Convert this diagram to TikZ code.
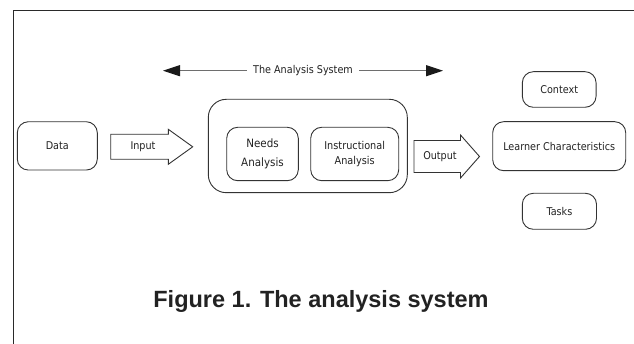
\documentclass[tikz,border=0pt]{standalone}
\usepackage{fontspec}
\newfontfamily\lblfont{DejaVu Sans}[FakeStretch=0.9]
\newfontfamily\capfont{Liberation Sans}
\usetikzlibrary{arrows.meta}
\definecolor{linec}{HTML}{333333}
\definecolor{framec}{HTML}{2A2A2A}
\definecolor{txtc}{HTML}{222222}
\definecolor{grayl}{HTML}{6E6E6E}
\definecolor{headc}{HTML}{1A1A1A}
\begin{document}
\begin{tikzpicture}[x=1pt,y=-1pt,
  box/.style={draw=linec, line width=0.9pt, rounded corners=11pt, inner sep=0pt,
    font=\lblfont\fontsize{10.7}{13}\selectfont, text=txtc, align=center},
  lbl/.style={font=\lblfont\fontsize{10.7}{13}\selectfont, text=txtc, align=center, inner sep=0pt},
  blk/.style={draw=linec, line width=0.9pt, fill=white, line join=miter},
  sysarrow/.style={draw=grayl, line width=1pt,
    {Triangle[length=17pt,width=11pt,color=headc]}-{Triangle[length=17pt,width=11pt,color=headc]}}]
\useasboundingbox (0,0) rectangle (634,344);
% frame (right and bottom sides lie outside the picture)
\draw[draw=framec, line width=1.3pt] (13.7,344) -- (13.7,10.7) -- (634,10.7);

% top system arrow
\coordinate (sysL) at (163,70.7);
\coordinate (sysR) at (443,70.7);
\draw[sysarrow] (sysL) -- (sysR)
  node[midway, lbl, fill=white, inner xsep=6.5pt, inner ysep=2pt] (syslbl) {The Analysis System};

% boxes
\node[box, minimum width=80pt, minimum height=48.3pt] (data) at (57.3,145.9) {Data};
\node[box, rounded corners=18pt, minimum width=199pt, minimum height=93.4pt] (sys) at (307.8,146) {};
\node[box, minimum width=71.6pt, minimum height=53.4pt,
  font=\lblfont\fontsize{11.5}{19}\selectfont] (needs) at (262.5,154) {Needs\\Analysis};
\node[box, minimum width=88pt, minimum height=53.4pt,
  font=\lblfont\fontsize{10.8}{15.7}\selectfont] (instr) at (354.7,154) {Instructional\\Analysis};
\node[box, minimum width=73.7pt, minimum height=35.6pt] (context) at (559.2,89.5) {Context};
\node[box, minimum width=133pt, minimum height=49pt] (learner) at (559.2,146.2) {Learner Characteristics};
\node[box, minimum width=74.2pt, minimum height=36pt] (tasks) at (559.4,211.3) {Tasks};

% block arrows
\draw[blk] (110.7,134.3) -- (168.3,134.3) -- (168.3,129.3) -- (192.7,146.8)
  -- (168.3,164.3) -- (168.3,159.3) -- (110.7,159.3) -- cycle;
\node[lbl] (inputlbl) at (143,147) {Input};
\draw[blk] (414,140.5) -- (460.5,140.5) -- (460.5,135) -- (479.5,156.5)
  -- (460.5,178) -- (460.5,172.5) -- (414,172.5) -- cycle;
\node[lbl] (outputlbl) at (440,157) {Output};

% caption
\node[font=\capfont\bfseries\fontsize{23.5}{28}\selectfont, text=txtc, anchor=base, inner sep=0pt]
  (caption) at (321,307.3) {Figure 1. The analysis system};
\end{tikzpicture}
\end{document}
